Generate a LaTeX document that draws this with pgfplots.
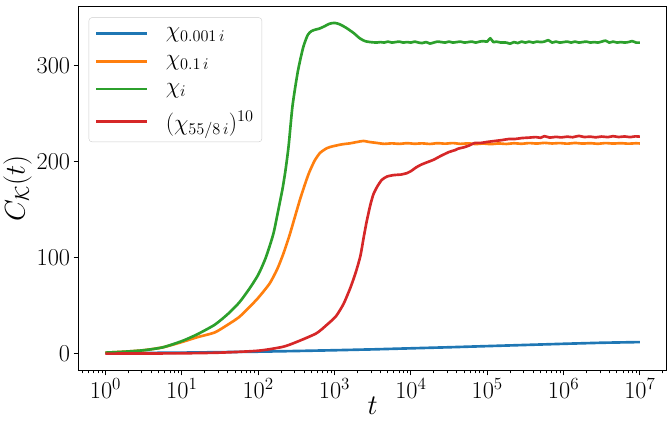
\RequirePackage{fix-cm}
\documentclass[border=0pt]{standalone}
\usepackage{pgfplots}
\pgfplotsset{compat=1.18}
\definecolor{tabblue}{HTML}{1F77B4}
\definecolor{taborange}{HTML}{FF7F0E}
\definecolor{tabgreen}{HTML}{2CA02C}
\definecolor{tabred}{HTML}{D62728}
\begin{document}
\begin{tikzpicture}
\begin{axis}[
  scale only axis, width=578bp, height=358bp,
  xmin=-0.35, xmax=7.35, ymin=-17.3, ymax=362,
  xtick={0,1,2,3,4,5,6,7},
  xticklabels={$10^{0}$,$10^{1}$,$10^{2}$,$10^{3}$,$10^{4}$,$10^{5}$,$10^{6}$,$10^{7}$},
  minor xtick={-0.301,-0.222,-0.155,-0.097,-0.046,
    0.301,0.477,0.602,0.699,0.778,0.845,0.903,0.954,
    1.301,1.477,1.602,1.699,1.778,1.845,1.903,1.954,
    2.301,2.477,2.602,2.699,2.778,2.845,2.903,2.954,
    3.301,3.477,3.602,3.699,3.778,3.845,3.903,3.954,
    4.301,4.477,4.602,4.699,4.778,4.845,4.903,4.954,
    5.301,5.477,5.602,5.699,5.778,5.845,5.903,5.954,
    6.301,6.477,6.602,6.699,6.778,6.845,6.903,6.954,
    7.301},
  ytick={0,100,200,300},
  tick align=outside, xtick pos=bottom, ytick pos=left,
  major tick length=5bp, minor tick length=3bp,
  tick style={black, line width=0.8bp},
  axis line style={line width=0.8bp},
  ticklabel style={font=\fontsize{24}{26}\selectfont},
  label style={font=\fontsize{28}{30}\selectfont},
  xlabel={$t$}, ylabel={$C_{\mathcal{K}}(t)$},
  xlabel style={yshift=8bp},
  ylabel style={yshift=-2bp},
  legend style={at={(0.017,0.969)}, anchor=north west, draw=black!20,
    rounded corners=3bp, font=\fontsize{23}{25}\selectfont,
    row sep=12bp, column sep=15bp, inner xsep=6bp, inner ysep=8bp},
  legend cell align=left,
  legend image code/.code={\draw[#1, line width=2.6bp] (0bp,0bp) -- (50bp,0bp);},
  every axis plot/.append style={line width=2.6bp, line join=round},
]
\addplot[tabblue] coordinates {
(0,0.5) (0.5,0.7) (1,1) (1.5,1.5) (2,2) (2.5,2.7) (3,3.5) (3.5,4.4) (4,5.5) (4.5,6.6) (5,7.8) (5.5,9) (6,10.2) (6.5,11.3) (7,12)
};
\addlegendentry{$\chi_{0.001\,i}$}
\addplot[taborange, smooth, tension=0.4] coordinates {
(0,1) (0.25,2) (0.5,3.5) (0.75,6.5) (1.0,12) (1.2,17) (1.43,22) (1.6,30) (1.75,38) (1.88,48) (2.0,58) (2.15,73) (2.25,88) (2.33,104) (2.41,123) (2.48,142) (2.55,161) (2.62,178) (2.67,189) (2.74,201) (2.81,209) (2.9,214) (2.98,216) (3.1,218) (3.2,219) (3.3,220.5) (3.38,221.5) (3.45,220.5) (3.55,219.5) (3.65,218.5) (3.75,219) (3.85,218.5) (3.95,219.2) (4.05,218.6) (4.15,219) (4.25,218.4) (4.35,219.2) (4.45,218.7) (4.55,219.3) (4.65,218.5) (4.75,219) (4.85,218.3) (4.95,218.8) (5.05,218.2) (5.15,218.9) (5.25,218.4) (5.35,219.1) (5.45,218.6) (5.55,219.3) (5.65,218.8) (5.75,219.5) (5.85,218.9) (5.95,219.3) (6.05,218.7) (6.15,219.4) (6.25,218.8) (6.35,219.2) (6.45,218.6) (6.55,219.3) (6.65,218.8) (6.75,219.2) (6.85,218.7) (6.95,219.1) (7.0,218.9)
};
\addlegendentry{$\chi_{0.1\,i}$}
\addplot[tabgreen, smooth, tension=0.4] coordinates {
(0,1) (0.25,2) (0.5,3.5) (0.75,6.5) (1.0,13) (1.2,20) (1.43,30) (1.6,41) (1.75,53) (1.88,67) (2.0,82) (2.1,100) (2.2,125) (2.27,152) (2.32,172) (2.36,192) (2.4,217) (2.45,258) (2.52,294) (2.59,319) (2.65,332) (2.7,336) (2.75,337.5) (2.8,338.5) (2.87,341) (2.93,343.5) (3.0,344.5) (3.07,343) (3.15,339.5) (3.25,334) (3.33,328.5) (3.4,325.5) (3.47,324.5)
(3.55,324) (3.6,324.5) (3.65,324) (3.7,325) (3.75,324) (3.8,324.5) (3.85,325) (3.9,324) (3.95,324.5) (4.0,324) (4.05,325) (4.1,324) (4.15,323.5) (4.2,324.5) (4.25,323) (4.3,324) (4.35,325) (4.4,324.5) (4.45,324) (4.5,325) (4.55,324) (4.6,324.5) (4.65,325) (4.7,324) (4.75,324.5) (4.8,325) (4.85,324) (4.9,325) (4.95,325.5) (5.0,325) (5.04,328.5) (5.08,324.5) (5.12,325) (5.18,324) (5.25,324) (5.3,322.8) (5.35,324.5) (5.4,323.5) (5.45,325) (5.5,324) (5.55,325) (5.6,324) (5.65,325) (5.7,324.5) (5.75,325) (5.8,326.5) (5.85,324) (5.9,325) (5.95,324) (6.0,324.5) (6.05,325) (6.1,324) (6.15,325) (6.2,324) (6.25,324.5) (6.3,325) (6.35,324) (6.4,324.5) (6.45,324) (6.5,325) (6.55,326) (6.6,324) (6.65,325) (6.7,324) (6.75,324.5) (6.8,324) (6.85,324.5) (6.9,325.5) (6.95,324) (7.0,324)
};
\addlegendentry{$\chi_{i}$}
\addplot[tabred, smooth, tension=0.4] coordinates {
(0,0) (0.5,0.1) (1,0.3) (1.5,1) (2,3) (2.32,7) (2.5,12) (2.76,21) (2.9,30) (3.02,39) (3.12,52) (3.21,69) (3.28,85) (3.34,102) (3.38,120) (3.42,137) (3.47,155) (3.51,166) (3.56,174) (3.62,181) (3.69,184.5) (3.78,186) (3.87,186.5) (3.95,188) (4.0,190) (4.07,194) (4.14,197) (4.22,199.5) (4.3,202) (4.37,205) (4.42,207) (4.5,210) (4.58,212) (4.62,213.5) (4.7,215) (4.77,217) (4.84,219.5) (4.92,219.5) (5.0,220.5) (5.1,221.5) (5.2,222.5) (5.28,223.5) (5.36,223.5) (5.45,224.5) (5.55,225) (5.64,225.5) (5.7,224.8) (5.75,226.5) (5.82,225) (5.9,225.8) (5.97,225.2) (6.05,226) (6.12,225.4) (6.2,226.8) (6.27,225.6) (6.35,226) (6.42,225.3) (6.5,226.1) (6.58,225.5) (6.65,226.5) (6.72,225.6) (6.8,226.2) (6.87,225.5) (6.94,226.3) (7.0,226)
};
\addlegendentry{$(\chi_{55/8\,i})^{10}$}
\end{axis}
\path ([yshift=6bp]current axis.north);
\path ([yshift=-9bp]current bounding box.south);
\end{tikzpicture}
\end{document}
